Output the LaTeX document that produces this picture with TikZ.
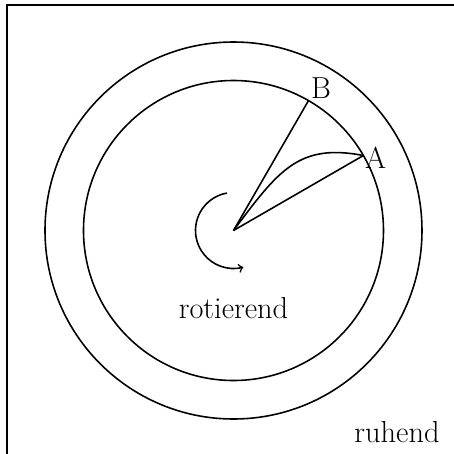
\documentclass[tikz,border=0pt]{standalone}
\usepackage{tikz}
\usetikzlibrary{positioning}

\begin{document}
\begin{tikzpicture}[line width=0.9pt, font=\LARGE]

	\clip (-4.67,-4.47) rectangle (4.41,4.61);
	\draw (-4.53,4.51) rectangle (4.8,-4.8);

	\coordinate (O) at (0,0);
	\coordinate (A) at (30:3);
	\coordinate (B) at (60:3);

	\draw (O) circle (3);
	\draw (O) circle (3.77);

	\node[anchor=west, inner sep=0.5pt, yshift=-0.05cm] (labA) at (A) {A};
	\node[anchor=south west, inner sep=1pt] (labB) at (B) {B};

	\draw (O) -- (A);
	\draw (O) -- (B);
	\draw (O) .. controls (0.9,1.2) and (1.3,1.75) .. (A);

	\draw[->] (100:0.76) arc (100:285:0.76);

	\node (rot) at (0,-1.55) {rotierend};
	\node (ruh) at (3.27,-4.03) {ruhend};

\end{tikzpicture}
\end{document}
